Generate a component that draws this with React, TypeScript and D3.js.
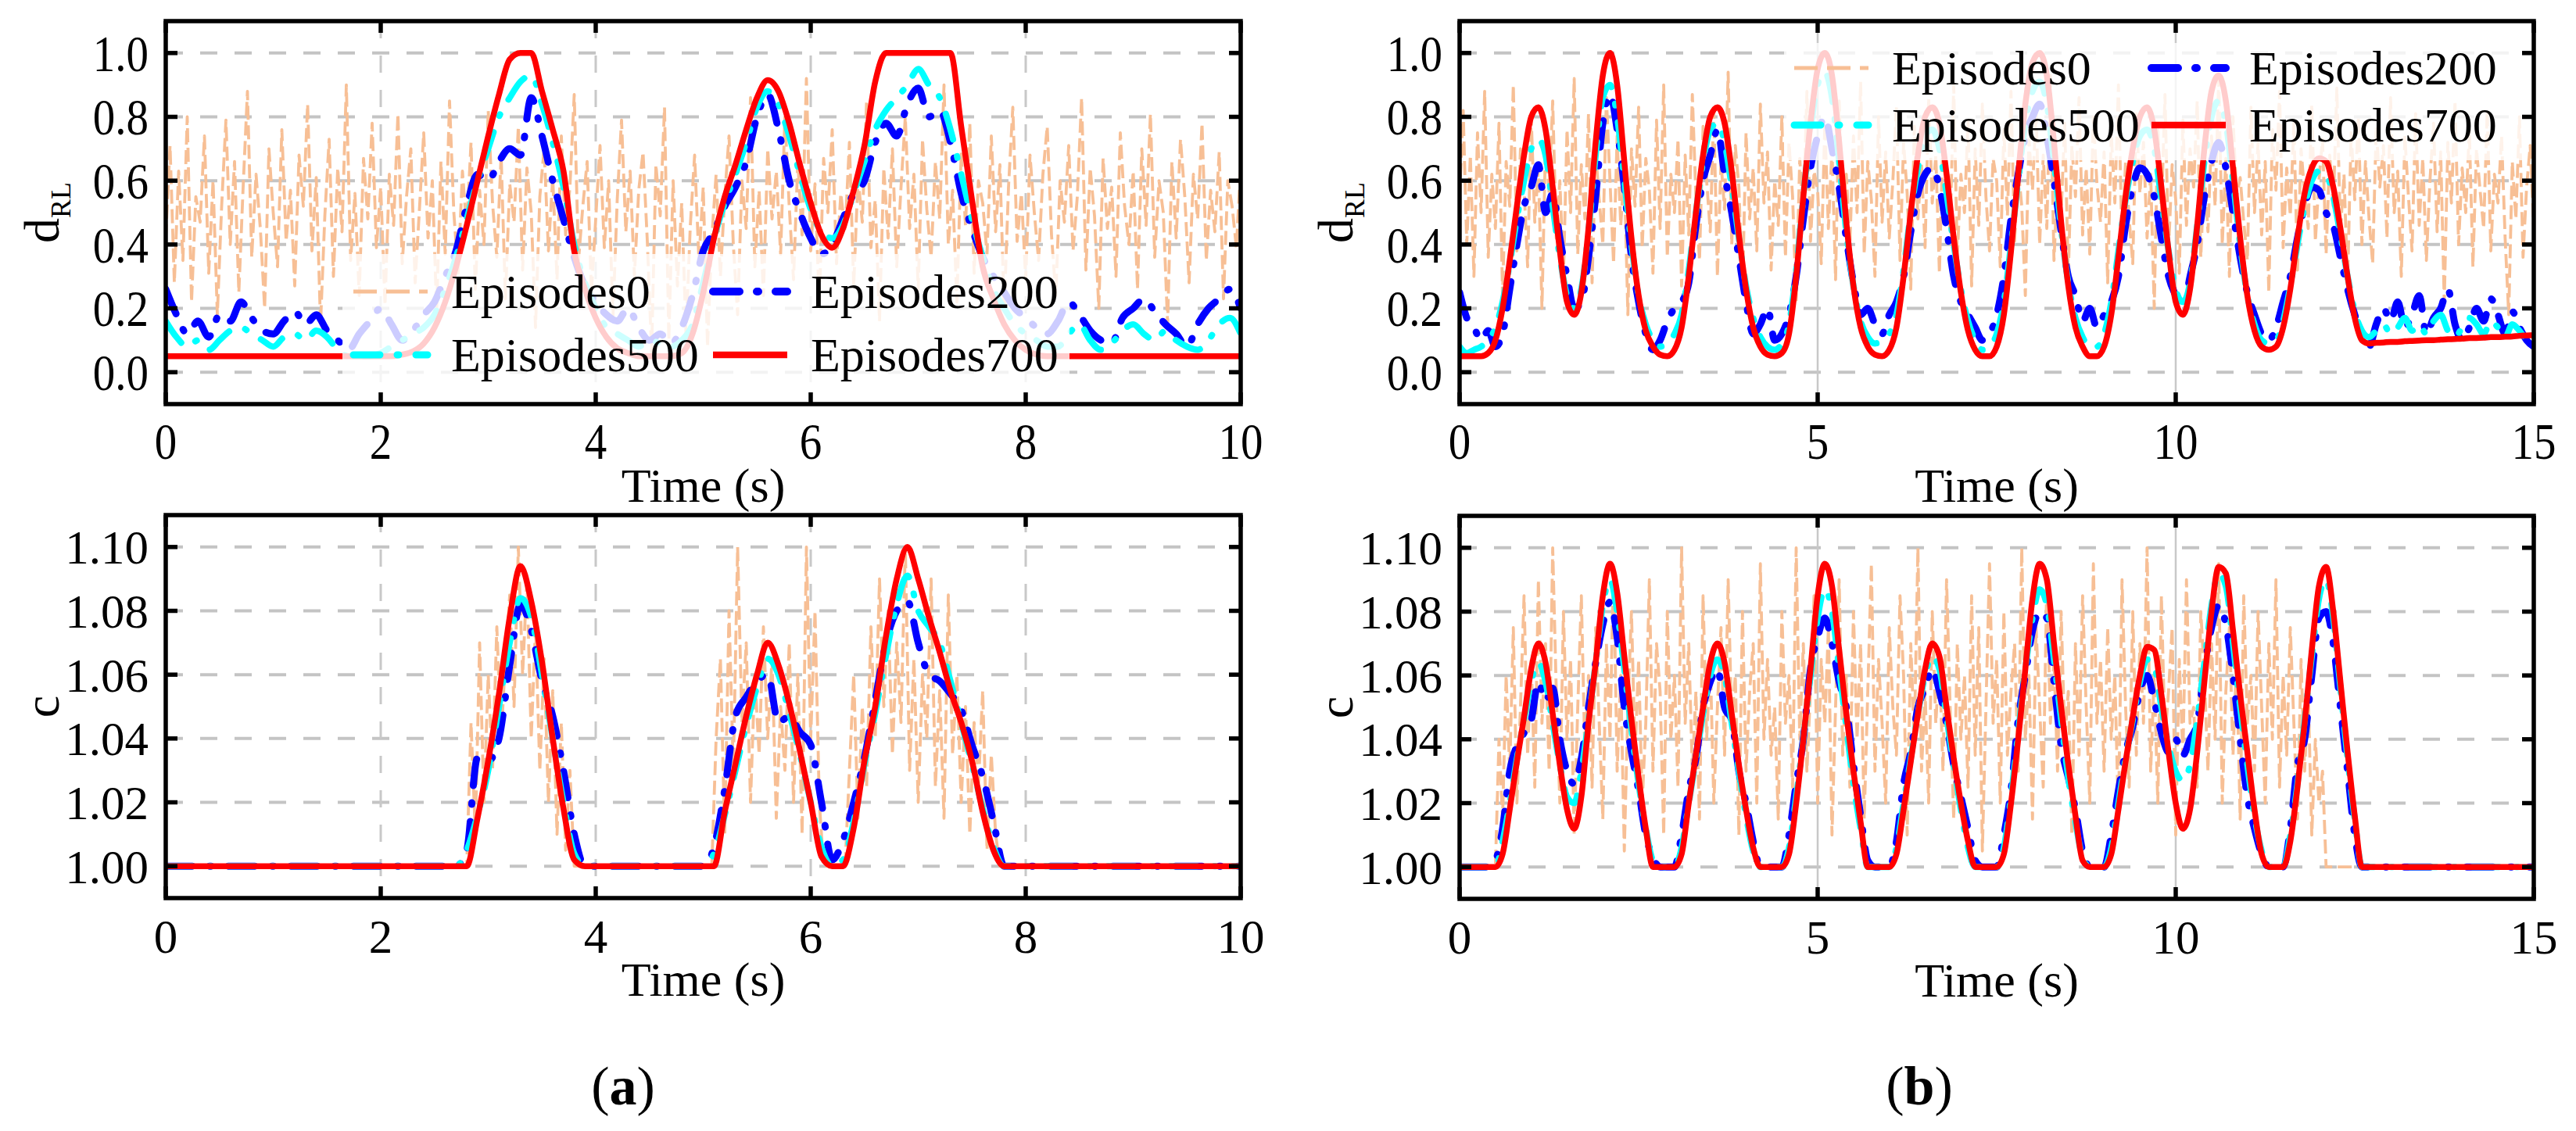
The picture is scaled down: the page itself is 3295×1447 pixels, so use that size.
import { useEffect, useRef } from "react"
import * as d3 from "d3"

type Pt = [number, number]

const WIDTH = 3295
const HEIGHT = 1447
const FONT = '"Liberation Serif", "Times New Roman", "Nimbus Roman", "DejaVu Serif", serif'

const legendNames = ["Episodes0", "Episodes200", "Episodes500", "Episodes700"]
const seriesColors = ["#f7bf95", "#0000ff", "#00ffff", "#ff0000"]
const seriesWidths = [3.8, 9, 8, 7.5]
const seriesDashes = ["18 7", "34 22 2 22", "34 22 2 22", null]

const timeTicksA = [0, 2, 4, 6, 8, 10]
const timeTicksB = [0, 5, 10, 15]
const dTicks = [0, 0.2, 0.4, 0.6, 0.8, 1.0]
const cTicks = [1.0, 1.02, 1.04, 1.06, 1.08, 1.1]

// sampling steps of the series (s)
const STEP = 0.1
const TL_E0_STEP = 0.04
const TR_E0_STEP = 0.05
const BR_E0_STEP = 0.05

// ---- (a) top: d_RL, 0..10 s ----
const tlE0 = [
  .42, .71, .28, .63, .35, .8, .22, .55, .47, .74,
  .31, .6, .18, .52, .79, .4, .66, .25, .58, .88,
  .36, .62, .45, .2, .7, .5, .33, .76, .41, .57,
  .27, .68, .52, .84, .38, .61, .15, .49, .73, .3,
  .64, .44, .9, .35, .56, .24, .67, .48, .78, .39,
  .58, .21, .62, .46, .81, .34, .55, .7, .28, .51,
  .75, .42, .6, .19, .66, .37, .85, .5, .31, .63,
  .45, .72, .26, .57, .4, .82, .53, .36, .68, .23,
  .59, .47, .77, .32, .64, .5, .14, .55, .7, .38,
  .61, .29, .74, .43, .58, .87, .35, .52, .66, .25,
  .48, .71, .39, .6, .17, .54, .79, .44, .63, .3,
  .57, .69, .41, .06, .65, .49, .83, .1, .6, .27,
  .53, .12, .46, .68, .35, .58, .08, .42, .62, .3,
  .55, .74, .4, .18, .6, .45, .86, .33, .57, .24,
  .7, .48, .63, .37, .8, .52, .29, .66, .43, .92,
  .38, .59, .21, .67, .5, .76, .34, .56, .44, .72,
  .27, .61, .47, .85, .39, .54, .16, .64, .42, .7,
  .33, .58, .8, .45, .62, .26, .73, .51, .36, .66,
  .48, .9, .4, .57, .22, .69, .46, .78, .31, .6,
  .53, .37, .74, .44, .65, .19, .58, .83, .41, .56,
  .29, .68, .5, .35, .62, .77, .43, .24, .6, .47,
  .71, .38, .55, .86, .32, .64, .49, .2, .67, .45,
  .58, .3, .75, .52, .4, .63, .26, .7, .46, .81,
  .36, .6, .5, .15, .66, .42, .73, .55, .28, .62,
  .48, .78, .35, .57, .44, .69, .23, .6, .52, .39,
  .65,
]
const tlE200 = [
  .26, .18, .12, .16, .11, .18, .16, .22, .17, .13,
  .12, .16, .19, .15, .18, .13, .1, .07, .12, .16,
  .2, .15, .1, .13, .18, .22, .3, .38, .52, .62,
  .6, .66, .7, .68, .86, .74, .6, .48, .36, .27,
  .22, .18, .16, .2, .14, .1, .12, .09, .14, .24,
  .38, .44, .52, .58, .66, .8, .87, .76, .6, .5,
  .42, .37, .4, .48, .56, .6, .72, .78, .74, .84,
  .89, .8, .82, .72, .56, .45, .36, .3, .25, .2,
  .17, .14, .12, .16, .22, .18, .13, .1, .09, .17,
  .2, .23, .19, .15, .12, .08, .15, .2, .23, .26,
  .2,
]
const tlE500 = [
  .16, .11, .08, .1, .07, .1, .13, .14, .12, .1,
  .08, .11, .12, .1, .13, .11, .07, .05, .05, .05,
  .06, .08, .1, .12, .14, .18, .26, .36, .48, .6,
  .7, .8, .86, .91, .93, .84, .72, .58, .4, .28,
  .2, .14, .12, .1, .08, .1, .09, .08, .1, .15,
  .28, .42, .53, .62, .72, .83, .88, .84, .74, .62,
  .51, .44, .42, .46, .56, .66, .76, .82, .86, .9,
  .95, .9, .86, .76, .62, .48, .36, .26, .2, .15,
  .12, .1, .08, .08, .12, .15, .1, .07, .09, .13,
  .15, .12, .1, .13, .1, .08, .07, .1, .15, .17,
  .12,
]
const tlE700 = [
  .05, .05, .05, .05, .05, .05, .05, .05, .05, .05,
  .05, .05, .05, .05, .05, .05, .05, .05, .05, .05,
  .05, .05, .055, .065, .09, .14, .22, .33, .46, .6,
  .74, .87, .98, 1, 1, .88, .76, .63, .38, .26,
  .17, .11, .075, .06, .05, .05, .05, .05, .06, .12,
  .25, .42, .55, .65, .76, .86, .915, .88, .78, .65,
  .53, .43, .39, .45, .57, .71, .91, 1, 1, 1,
  1, 1, 1, 1, .77, .54, .33, .23, .15, .1,
  .07, .055, .05, .05, .05, .05, .05, .05, .05, .05,
  .05, .05, .05, .05, .05, .05, .05, .05, .05, .05,
  .05,
]

// ---- (b) top: d_RL, 0..15 s ----
const trE0 = [
  .55, .82, .4, .68, .3, .75, .5, .88, .36, .62,
  .45, .78, .24, .66, .52, .9, .38, .7, .58, .33,
  .8, .47, .64, .2, .72, .56, .85, .42, .6, .3,
  .76, .5, .92, .37, .65, .48, .81, .28, .69, .54,
  .4, .86, .6, .34, .74, .46, .63, .18, .7, .52,
  .83, .39, .67, .57, .31, .79, .45, .9, .36, .62,
  .5, .73, .27, .68, .43, .87, .55, .35, .77, .6,
  .44, .82, .3, .66, .51, .94, .4, .71, .58, .25,
  .75, .48, .64, .38, .84, .53, .69, .32, .6, .46,
  .8, .36, .72, .55, .22, .67, .49, .88, .41, .63,
  .57, .34, .78, .45, .7, .29, .85, .52, .62, .4,
  .74, .5, .91, .37, .66, .54, .3, .8, .47, .69,
  .42, .6, .83, .35, .72, .56, .26, .77, .48, .65,
  .39, .86, .53, .68, .31, .74, .58, .44, .9, .36,
  .62, .5, .79, .27, .7, .46, .84, .55, .38, .67,
  .6, .33, .76, .49, .88, .41, .64, .52, .24, .73,
  .57, .82, .4, .68, .45, .93, .35, .61, .5, .78,
  .3, .71, .55, .86, .43, .64, .37, .8, .59, .47,
  .69, .28, .75, .53, .9, .4, .66, .48, .34, .81,
  .56, .72, .42, .62, .2, .77, .5, .87, .38, .65,
  .54, .31, .79, .46, .7, .58, .85, .36, .63, .44,
  .74, .52, .92, .4, .67, .3, .8, .55, .61, .47,
  .35, .83, .5, .72, .43, .66, .25, .76, .57, .88,
  .39, .64, .49, .78, .32, .7, .56, .45, .84, .41,
  .6, .73, .37, .68, .52, .89, .44, .62, .28, .75,
  .54, .8, .4, .66, .48, .34, .77, .58, .71, .42,
  .86, .5, .63, .3, .74, .55, .38, .81, .46, .67,
  .35, .6, .78, .44, .69, .22, .72, .53, .85, .4,
  .64, .5, .76, .33, .7, .57, .45, .82, .38, .62,
  .53, .74, .42, .18, .66, .48, .8, .36, .58, .71,
  .45,
]
const trE200 = [
  .25, .17, .14, .1, .13, .08, .12, .26, .4, .52,
  .58, .65, .5, .56, .42, .3, .2, .22, .36, .55,
  .78, .87, .76, .58, .36, .22, .12, .07, .1, .16,
  .2, .22, .28, .46, .6, .68, .76, .62, .5, .36,
  .22, .12, .15, .2, .1, .12, .18, .3, .48, .64,
  .74, .8, .7, .58, .42, .28, .18, .2, .15, .12,
  .18, .22, .3, .44, .56, .62, .64, .58, .45, .3,
  .22, .18, .14, .1, .12, .18, .3, .48, .62, .74,
  .8, .84, .74, .6, .44, .3, .24, .16, .2, .14,
  .18, .22, .3, .46, .58, .64, .62, .55, .42, .3,
  .24, .2, .3, .4, .55, .66, .72, .64, .5, .36,
  .25, .18, .12, .1, .14, .22, .3, .42, .52, .58,
  .57, .5, .46, .36, .26, .18, .12, .08, .15, .2,
  .16, .22, .14, .18, .24, .12, .17, .2, .26, .15,
  .1, .14, .2, .16, .23, .18, .12, .19, .14, .1,
  .08,
]
const trE500 = [
  .08, .06, .07, .08, .1, .14, .22, .34, .48, .6,
  .7, .73, .68, .52, .36, .24, .2, .26, .44, .68,
  .86, .9, .8, .6, .4, .24, .15, .1, .08, .09,
  .12, .18, .32, .5, .66, .76, .78, .72, .58, .42,
  .27, .17, .11, .08, .07, .09, .15, .32, .55, .76,
  .9, .94, .86, .66, .44, .27, .16, .11, .09, .1,
  .12, .18, .32, .5, .64, .74, .76, .7, .56, .4,
  .26, .16, .1, .07, .08, .12, .22, .4, .6, .78,
  .88, .91, .84, .66, .45, .28, .17, .11, .08, .08,
  .12, .22, .38, .54, .66, .74, .76, .7, .54, .38,
  .26, .22, .28, .46, .66, .8, .85, .78, .6, .4,
  .24, .15, .1, .09, .1, .16, .27, .4, .52, .6,
  .63, .62, .55, .43, .3, .19, .13, .11, .13, .15,
  .12, .14, .17, .13, .15, .12, .16, .18, .13, .11,
  .14, .17, .15, .12, .16, .14, .11, .15, .13, .1,
  .09,
]
const trE700 = [
  .05, .05, .05, .05, .06, .1, .2, .35, .52, .68,
  .8, .83, .76, .58, .38, .22, .18, .25, .45, .72,
  .93, 1, .9, .66, .42, .24, .13, .08, .055, .05,
  .07, .14, .3, .5, .68, .8, .83, .78, .63, .43,
  .26, .14, .08, .055, .05, .06, .12, .3, .55, .78,
  .95, 1, .93, .72, .47, .27, .14, .08, .055, .05,
  .07, .14, .3, .5, .68, .8, .83, .78, .62, .42,
  .25, .13, .07, .05, .05, .08, .18, .38, .62, .84,
  .97, 1, .93, .72, .47, .27, .14, .08, .05, .05,
  .08, .18, .36, .55, .7, .8, .83, .76, .58, .38,
  .22, .18, .26, .46, .7, .88, .93, .85, .64, .42,
  .24, .13, .08, .07, .08, .14, .26, .42, .56, .64,
  .67, .66, .58, .45, .3, .17, .1, .09, .092, .093,
  .095, .095, .097, .098, .099, .1, .1, .102, .103, .104,
  .105, .107, .107, .108, .11, .11, .111, .112, .114, .115,
  .116,
]

// ---- (a) bottom: c, 0..10 s ----
const blE0: Pt[] = [
  [0, 1], [2.8, 1], [2.84, 1.045], [2.88, 1.01], [2.92, 1.07], [2.96, 1.02], [3.0, 1.06], [3.04, 1.03],
  [3.08, 1.075], [3.12, 1.04], [3.16, 1.065], [3.2, 1.085], [3.24, 1.05], [3.28, 1.1], [3.32, 1.06],
  [3.36, 1.09], [3.4, 1.04], [3.44, 1.075], [3.48, 1.03], [3.52, 1.065], [3.56, 1.02], [3.6, 1.055],
  [3.64, 1.01], [3.68, 1.045], [3.72, 1.005], [3.76, 1.03], [3.8, 1], [3.84, 1],
  [5.08, 1], [5.12, 1.04], [5.16, 1.065], [5.2, 1.01], [5.24, 1.08], [5.28, 1.03], [5.32, 1.1],
  [5.36, 1.045], [5.4, 1.07], [5.44, 1.02], [5.48, 1.06], [5.52, 1.035], [5.56, 1.075], [5.6, 1.04],
  [5.64, 1.065], [5.68, 1.015], [5.72, 1.05], [5.76, 1.03], [5.8, 1.07], [5.84, 1.02], [5.88, 1.06],
  [5.92, 1.01], [5.96, 1.1], [6.0, 1.04], [6.04, 1.08], [6.08, 1.02], [6.12, 1], [6.16, 1],
  [6.32, 1], [6.36, 1.03], [6.4, 1.06], [6.44, 1.015], [6.48, 1.05], [6.52, 1.025], [6.56, 1.075],
  [6.6, 1.04], [6.64, 1.09], [6.68, 1.05], [6.72, 1.08], [6.76, 1.035], [6.8, 1.07], [6.84, 1.045],
  [6.88, 1.1], [6.92, 1.03], [6.96, 1.065], [7.0, 1.02], [7.04, 1.06], [7.08, 1.04], [7.12, 1.09],
  [7.16, 1.025], [7.2, 1.055], [7.24, 1.015], [7.28, 1.085], [7.32, 1.035], [7.36, 1.06], [7.4, 1.02],
  [7.44, 1.05], [7.48, 1.01], [7.52, 1.045], [7.56, 1.025], [7.6, 1.055], [7.64, 1.005], [7.68, 1.035],
  [7.72, 1.01], [7.76, 1], [10, 1],
]
const blE200 = [
  1, 1, 1, 1, 1, 1, 1, 1, 1, 1,
  1, 1, 1, 1, 1, 1, 1, 1, 1, 1,
  1, 1, 1, 1, 1, 1, 1, 1, 1.005, 1.034,
  1.033, 1.04, 1.063, 1.082, 1.074, 1.058, 1.047, 1.03, 1.01, 1,
  1, 1, 1, 1, 1, 1, 1, 1, 1, 1,
  1, 1.006, 1.024, 1.047, 1.053, 1.058, 1.06, 1.045, 1.047, 1.042,
  1.038, 1.02, 1.002, 1.008, 1.02, 1.034, 1.052, 1.07, 1.08, 1.083,
  1.07, 1.06, 1.058, 1.054, 1.049, 1.038, 1.028, 1.014, 1, 1,
  1, 1, 1, 1, 1, 1, 1, 1, 1, 1,
  1, 1, 1, 1, 1, 1, 1, 1, 1, 1,
  1,
]
const blE500 = [
  1, 1, 1, 1, 1, 1, 1, 1, 1, 1,
  1, 1, 1, 1, 1, 1, 1, 1, 1, 1,
  1, 1, 1, 1, 1, 1, 1, 1, 1.005, 1.016,
  1.03, 1.05, 1.07, 1.084, 1.078, 1.06, 1.04, 1.02, 1.004, 1,
  1, 1, 1, 1, 1, 1, 1, 1, 1, 1,
  1, 1.004, 1.016, 1.03, 1.044, 1.056, 1.065, 1.06, 1.048, 1.035,
  1.02, 1.006, 1, 1.002, 1.014, 1.032, 1.048, 1.066, 1.082, 1.091,
  1.08, 1.075, 1.07, 1.058, 1.045, 1.032, 1.018, 1.006, 1, 1,
  1, 1, 1, 1, 1, 1, 1, 1, 1, 1,
  1, 1, 1, 1, 1, 1, 1, 1, 1, 1,
  1,
]
const blE700 = [
  1, 1, 1, 1, 1, 1, 1, 1, 1, 1,
  1, 1, 1, 1, 1, 1, 1, 1, 1, 1,
  1, 1, 1, 1, 1, 1, 1, 1, 1, 1.015,
  1.033, 1.054, 1.078, 1.094, 1.083, 1.064, 1.04, 1.018, 1.002, 1,
  1, 1, 1, 1, 1, 1, 1, 1, 1, 1,
  1, 1, 1.017, 1.032, 1.047, 1.06, 1.07, 1.063, 1.051, 1.036,
  1.02, 1.003, 1, 1, 1.012, 1.033, 1.05, 1.072, 1.09, 1.1,
  1.09, 1.078, 1.067, 1.055, 1.045, 1.033, 1.017, 1.005, 1, 1,
  1, 1, 1, 1, 1, 1, 1, 1, 1, 1,
  1, 1, 1, 1, 1, 1, 1, 1, 1, 1,
  1,
]

// ---- (b) bottom: c, 0..15 s ----
const brE0 = [
  1, 1, 1, 1, 1, 1, 1, 1, 1, 1,
  1, 1.04, 1.015, 1.06, 1.03, 1.075, 1.02, 1.05, 1.085, 1.035,
  1.065, 1.025, 1.09, 1.045, 1.07, 1.03, 1.1, 1.055, 1.02, 1.08,
  1.04, 1.065, 1.01, 1.05, 1.085, 1.035, 1.06, 1.025, 1.075, 1.045,
  1.015, 1.07, 1.04, 1.095, 1.03, 1.06, 1.005, 1.05, 1.08, 1.035,
  1.065, 1.02, 1.045, 1.09, 1.03, 1.07, 1.055, 1.01, 1.08, 1.04,
  1.06, 1.025, 1.1, 1.045, 1.07, 1.03, 1.055, 1.015, 1.085, 1.04,
  1.065, 1.02, 1.05, 1.075, 1.035, 1.09, 1.045, 1.06, 1.01, 1.08,
  1.03, 1.055, 1.07, 1.02, 1.095, 1.04, 1.065, 1.035, 1.05, 1.015,
  1.08, 1.045, 1.06, 1.025, 1.1, 1.04, 1.07, 1.03, 1.055, 1.085,
  1.02, 1.065, 1.045, 1.075, 1.01, 1.05, 1.09, 1.035, 1.06, 1.025,
  1.08, 1.04, 1.07, 1.015, 1.055, 1.095, 1.03, 1.065, 1.045, 1.02,
  1.075, 1.05, 1.035, 1.085, 1.06, 1.01, 1.07, 1.04, 1.1, 1.03,
  1.055, 1.02, 1.08, 1.045, 1.065, 1.03, 1.09, 1.05, 1.015, 1.07,
  1.04, 1.06, 1.025, 1.085, 1.035, 1.075, 1.005, 1.05, 1.095, 1.045,
  1.065, 1.02, 1.08, 1.035, 1.055, 1.07, 1.03, 1.1, 1.04, 1.06,
  1.015, 1.075, 1.05, 1.025, 1.09, 1.045, 1.065, 1.03, 1.08, 1.04,
  1.055, 1.01, 1.07, 1.035, 1.085, 1.05, 1.02, 1.095, 1.045, 1.065,
  1.03, 1.075, 1.04, 1.06, 1.015, 1.09, 1.05, 1.025, 1.08, 1.035,
  1.07, 1.045, 1.1, 1.03, 1.06, 1.02, 1.085, 1.04, 1.055, 1.075,
  1.01, 1.065, 1.035, 1.09, 1.045, 1.05, 1.025, 1.08, 1.06, 1.03,
  1.07, 1.04, 1.095, 1.02, 1.055, 1.075, 1.035, 1.065, 1.015, 1.085,
  1.045, 1.06, 1.03, 1.08, 1.05, 1.02, 1.07, 1.04, 1.09, 1.025,
  1.06, 1.035, 1.075, 1.045, 1.015, 1.065, 1.03, 1.055, 1.01, 1.04,
  1.02, 1.03, 1, 1, 1, 1, 1, 1, 1, 1,
  1, 1, 1, 1, 1, 1, 1, 1, 1, 1,
  1, 1, 1, 1, 1, 1, 1, 1, 1, 1,
  1, 1, 1, 1, 1, 1, 1, 1, 1, 1,
  1, 1, 1, 1, 1, 1, 1, 1, 1, 1,
  1, 1, 1, 1, 1, 1, 1, 1, 1, 1,
  1,
]
const brE200 = [
  1, 1, 1, 1, 1, 1.002, 1.012, 1.03, 1.038, 1.042,
  1.046, 1.058, 1.052, 1.056, 1.04, 1.03, 1.026, 1.034, 1.05, 1.064,
  1.076, 1.083, 1.072, 1.05, 1.036, 1.024, 1.01, 1.003, 1, 1,
  1, 1.01, 1.024, 1.034, 1.05, 1.058, 1.062, 1.05, 1.046, 1.03,
  1.02, 1.008, 1, 1, 1, 1, 1.01, 1.026, 1.04, 1.062,
  1.072, 1.078, 1.07, 1.058, 1.05, 1.032, 1.016, 1.002, 1, 1,
  1, 1.008, 1.026, 1.036, 1.05, 1.056, 1.062, 1.055, 1.045, 1.032,
  1.022, 1.012, 1.002, 1, 1, 1, 1.01, 1.024, 1.046, 1.06,
  1.074, 1.08, 1.078, 1.058, 1.038, 1.028, 1.018, 1.005, 1, 1,
  1, 1.01, 1.024, 1.036, 1.044, 1.055, 1.06, 1.052, 1.042, 1.036,
  1.04, 1.035, 1.04, 1.045, 1.062, 1.075, 1.082, 1.076, 1.06, 1.04,
  1.022, 1.012, 1.004, 1, 1, 1, 1.012, 1.032, 1.04, 1.06,
  1.078, 1.08, 1.07, 1.05, 1.03, 1.01, 1, 1, 1, 1,
  1, 1, 1, 1, 1, 1, 1, 1, 1, 1,
  1, 1, 1, 1, 1, 1, 1, 1, 1, 1,
  1,
]
const brE500 = [
  1, 1, 1, 1, 1, 1, 1.008, 1.02, 1.034, 1.046,
  1.058, 1.064, 1.058, 1.045, 1.032, 1.022, 1.02, 1.03, 1.046, 1.064,
  1.082, 1.09, 1.08, 1.062, 1.043, 1.026, 1.012, 1.002, 1, 1,
  1, 1.006, 1.02, 1.034, 1.048, 1.06, 1.065, 1.06, 1.045, 1.03,
  1.016, 1.005, 1, 1, 1, 1, 1.006, 1.022, 1.04, 1.06,
  1.078, 1.087, 1.08, 1.062, 1.044, 1.026, 1.012, 1, 1, 1,
  1, 1.006, 1.02, 1.034, 1.048, 1.06, 1.066, 1.062, 1.047, 1.032,
  1.018, 1.006, 1, 1, 1, 1, 1.006, 1.022, 1.042, 1.062,
  1.078, 1.087, 1.082, 1.065, 1.046, 1.028, 1.014, 1.003, 1, 1,
  1, 1.006, 1.02, 1.034, 1.046, 1.058, 1.065, 1.063, 1.05, 1.038,
  1.03, 1.027, 1.032, 1.046, 1.064, 1.082, 1.092, 1.088, 1.07, 1.05,
  1.032, 1.016, 1.005, 1, 1, 1, 1.01, 1.026, 1.046, 1.066,
  1.084, 1.09, 1.078, 1.056, 1.034, 1.015, 1, 1, 1, 1,
  1, 1, 1, 1, 1, 1, 1, 1, 1, 1,
  1, 1, 1, 1, 1, 1, 1, 1, 1, 1,
  1,
]
const brE700 = [
  1, 1, 1, 1, 1, 1, 1.004, 1.018, 1.033, 1.047,
  1.062, 1.07, 1.064, 1.048, 1.032, 1.018, 1.012, 1.022, 1.045, 1.064,
  1.085, 1.095, 1.086, 1.066, 1.046, 1.028, 1.012, 1, 1, 1,
  1, 1.004, 1.02, 1.035, 1.05, 1.064, 1.07, 1.064, 1.048, 1.032,
  1.018, 1.006, 1, 1, 1, 1, 1.004, 1.02, 1.04, 1.062,
  1.085, 1.095, 1.088, 1.068, 1.048, 1.03, 1.014, 1, 1, 1,
  1, 1.004, 1.018, 1.033, 1.048, 1.062, 1.07, 1.066, 1.05, 1.034,
  1.02, 1.008, 1, 1, 1, 1, 1.004, 1.02, 1.04, 1.062,
  1.084, 1.095, 1.09, 1.07, 1.05, 1.032, 1.016, 1.002, 1, 1,
  1, 1.004, 1.018, 1.033, 1.047, 1.06, 1.069, 1.068, 1.054, 1.036,
  1.02, 1.012, 1.018, 1.036, 1.058, 1.08, 1.094, 1.092, 1.074, 1.054,
  1.036, 1.018, 1.004, 1, 1, 1, 1.008, 1.025, 1.045, 1.068,
  1.088, 1.094, 1.08, 1.058, 1.036, 1.016, 1, 1, 1, 1,
  1, 1, 1, 1, 1, 1, 1, 1, 1, 1,
  1, 1, 1, 1, 1, 1, 1, 1, 1, 1,
  1,
]

const onGrid = (values: number[], step: number): Pt[] => values.map((v, i) => [i * step, v])

interface LegendSpec {
  box: [number, number, number, number]
  cols: [number, number]
  rows: [number, number]
}

interface PanelSpec {
  id: string
  left: number
  right: number
  top: number
  bottom: number
  tMax: number
  vDomain: [number, number]
  xTicks: number[]
  yTicks: number[]
  yFormat: string
  yLabel: string
  yLabelSub?: string
  stretch: boolean
  dashedVGrid: boolean
  series: Pt[][]
  legend?: LegendSpec
}

const panels: PanelSpec[] = [
  {
    id: "tl", left: 212, right: 1587, top: 27, bottom: 517, tMax: 10, vDomain: [-0.1, 1.1],
    xTicks: timeTicksA, yTicks: dTicks, yFormat: ".1f", yLabel: "d", yLabelSub: "RL",
    stretch: true, dashedVGrid: true,
    series: [onGrid(tlE0, TL_E0_STEP), onGrid(tlE200, STEP), onGrid(tlE500, STEP), onGrid(tlE700, STEP)],
    legend: { box: [438, 325, 930, 167], cols: [452, 912], rows: [373, 454] },
  },
  {
    id: "tr", left: 1867, right: 3241, top: 27, bottom: 517, tMax: 15, vDomain: [-0.1, 1.1],
    xTicks: timeTicksB, yTicks: dTicks, yFormat: ".1f", yLabel: "d", yLabelSub: "RL",
    stretch: true, dashedVGrid: false,
    series: [onGrid(trE0, TR_E0_STEP), onGrid(trE200, STEP), onGrid(trE500, STEP), onGrid(trE700, STEP)],
    legend: { box: [2282, 55, 946, 150], cols: [2295, 2752], rows: [87, 160] },
  },
  {
    id: "bl", left: 212, right: 1587, top: 659, bottom: 1149, tMax: 10, vDomain: [0.99, 1.11],
    xTicks: timeTicksA, yTicks: cTicks, yFormat: ".2f", yLabel: "c",
    stretch: false, dashedVGrid: true,
    series: [blE0, onGrid(blE200, STEP), onGrid(blE500, STEP), onGrid(blE700, STEP)],
  },
  {
    id: "br", left: 1867, right: 3241, top: 660, bottom: 1150, tMax: 15, vDomain: [0.99, 1.11],
    xTicks: timeTicksB, yTicks: cTicks, yFormat: ".2f", yLabel: "c",
    stretch: false, dashedVGrid: false,
    series: [onGrid(brE0, BR_E0_STEP), onGrid(brE200, STEP), onGrid(brE500, STEP), onGrid(brE700, STEP)],
  },
]

function drawPanel(
  svg: d3.Selection<SVGSVGElement, unknown, null, undefined>,
  defs: d3.Selection<SVGDefsElement, unknown, null, undefined>,
  p: PanelSpec
) {
  const x = d3.scaleLinear().domain([0, p.tMax]).range([p.left, p.right])
  const y = d3.scaleLinear().domain(p.vDomain).range([p.bottom, p.top])
  const g = svg.append("g")

  defs
    .append("clipPath")
    .attr("id", `clip-${p.id}`)
    .append("rect")
    .attr("x", p.left)
    .attr("y", p.top)
    .attr("width", p.right - p.left)
    .attr("height", p.bottom - p.top)

  // grid
  g.append("g")
    .selectAll("line")
    .data(p.yTicks)
    .join("line")
    .attr("x1", p.left)
    .attr("x2", p.right)
    .attr("y1", (d) => y(d))
    .attr("y2", (d) => y(d))
    .attr("stroke", "#c4c4c4")
    .attr("stroke-width", 4)
    .attr("stroke-dasharray", "22 22")

  g.append("g")
    .selectAll("line")
    .data(p.xTicks.slice(1, -1))
    .join("line")
    .attr("x1", (d) => x(d))
    .attr("x2", (d) => x(d))
    .attr("y1", p.top)
    .attr("y2", p.bottom)
    .attr("stroke", "#c8c8c8")
    .attr("stroke-width", p.dashedVGrid ? 3 : 2.5)
    .attr("stroke-dasharray", p.dashedVGrid ? "22 22" : null)

  // series
  const line = d3
    .line<Pt>()
    .x((d) => x(d[0]))
    .y((d) => y(d[1]))
  const data = g.append("g").attr("clip-path", `url(#clip-${p.id})`)
  p.series.forEach((pts, i) => {
    data
      .append("path")
      .datum(pts)
      .attr("d", line.curve(i === 0 ? d3.curveLinear : d3.curveMonotoneX))
      .attr("fill", "none")
      .attr("stroke", seriesColors[i])
      .attr("stroke-width", seriesWidths[i])
      .attr("stroke-dasharray", seriesDashes[i])
      .attr("stroke-linecap", i === 1 || i === 2 ? "round" : "butt")
      .attr("stroke-linejoin", "round")
  })

  // legend
  if (p.legend) {
    const L = p.legend
    const lg = g.append("g")
    lg.append("rect")
      .attr("x", L.box[0])
      .attr("y", L.box[1])
      .attr("width", L.box[2])
      .attr("height", L.box[3])
      .attr("fill", "#ffffff")
      .attr("fill-opacity", 0.8)
    const slots: [number, number][] = [
      [0, 0],
      [1, 0],
      [0, 1],
      [1, 1],
    ]
    legendNames.forEach((name, i) => {
      const cx = L.cols[slots[i][0]]
      const cy = L.rows[slots[i][1]]
      lg.append("line")
        .attr("x1", cx)
        .attr("x2", cx + 95)
        .attr("y1", cy)
        .attr("y2", cy)
        .attr("stroke", seriesColors[i])
        .attr("stroke-width", i === 0 ? 5 : seriesWidths[i] + 1)
        .attr("stroke-dasharray", i === 0 ? "30 12" : seriesDashes[i])
        .attr("stroke-linecap", i === 1 || i === 2 ? "round" : "butt")
      lg.append("text")
        .attr("x", cx + 125)
        .attr("y", cy + 21)
        .style("font-family", FONT)
        .attr("font-size", 62)
        .attr("fill", "#000")
        .text(name)
    })
  }

  // frame and inward ticks
  const tickLen = 15
  const axes = g.append("g").attr("stroke", "#000").attr("stroke-width", 5.5)
  p.xTicks.forEach((t) => {
    axes.append("line").attr("x1", x(t)).attr("x2", x(t)).attr("y1", p.bottom).attr("y2", p.bottom - tickLen)
    axes.append("line").attr("x1", x(t)).attr("x2", x(t)).attr("y1", p.top).attr("y2", p.top + tickLen)
  })
  p.yTicks.forEach((v) => {
    axes.append("line").attr("x1", p.left).attr("x2", p.left + tickLen).attr("y1", y(v)).attr("y2", y(v))
    axes.append("line").attr("x1", p.right).attr("x2", p.right - tickLen).attr("y1", y(v)).attr("y2", y(v))
  })
  axes
    .append("rect")
    .attr("x", p.left)
    .attr("y", p.top)
    .attr("width", p.right - p.left)
    .attr("height", p.bottom - p.top)
    .attr("fill", "none")

  // tick labels
  const scale = p.stretch ? " scale(1,1.15)" : ""
  const tickSize = p.stretch ? 57 : 61
  p.xTicks.forEach((t) => {
    g.append("text")
      .attr("transform", `translate(${x(t)},${p.bottom + 70})${scale}`)
      .attr("text-anchor", "middle")
      .style("font-family", FONT)
      .attr("font-size", tickSize)
      .text(String(t))
  })
  const fmt = d3.format(p.yFormat)
  p.yTicks.forEach((v) => {
    g.append("text")
      .attr("transform", `translate(${p.left - 22},${y(v)})${scale}`)
      .attr("text-anchor", "end")
      .attr("dy", "0.35em")
      .style("font-family", FONT)
      .attr("font-size", tickSize)
      .text(fmt(v))
  })

  // axis titles
  g.append("text")
    .attr("x", (p.left + p.right) / 2)
    .attr("y", p.bottom + 125)
    .attr("text-anchor", "middle")
    .style("font-family", FONT)
    .attr("font-size", 62)
    .text("Time (s)")

  const yl = g
    .append("text")
    .attr("transform", `translate(${p.left - 137},${(p.top + p.bottom) / 2}) rotate(-90)`)
    .attr("text-anchor", "middle")
    .style("font-family", FONT)
    .attr("font-size", 64)
  yl.append("tspan").text(p.yLabel)
  if (p.yLabelSub) {
    yl.append("tspan").attr("dy", 15).attr("font-size", 36).text(p.yLabelSub)
  }
}

export default function App() {
  const svgRef = useRef<SVGSVGElement>(null)

  useEffect(() => {
    if (!svgRef.current) return
    const svg = d3.select(svgRef.current)
    svg.selectAll("*").remove()

    svg.append("rect").attr("width", WIDTH).attr("height", HEIGHT).attr("fill", "#ffffff")
    const defs = svg.append("defs")
    panels.forEach((p) => drawPanel(svg, defs, p))

    // sub-figure captions
    const captions: [string, number][] = [
      ["a", 797],
      ["b", 2455],
    ]
    captions.forEach(([letter, cx]) => {
      const t = svg
        .append("text")
        .attr("x", cx)
        .attr("y", 1413)
        .attr("text-anchor", "middle")
        .style("font-family", FONT)
        .attr("font-size", 70)
      t.append("tspan").text("(")
      t.append("tspan").attr("font-weight", "bold").text(letter)
      t.append("tspan").text(")")
    })
  }, [])

  return (
    <div style={{ position: "absolute", left: 0, top: 0, width: WIDTH, height: HEIGHT }}>
      <svg ref={svgRef} width={WIDTH} height={HEIGHT} style={{ display: "block" }} />
    </div>
  )
}
